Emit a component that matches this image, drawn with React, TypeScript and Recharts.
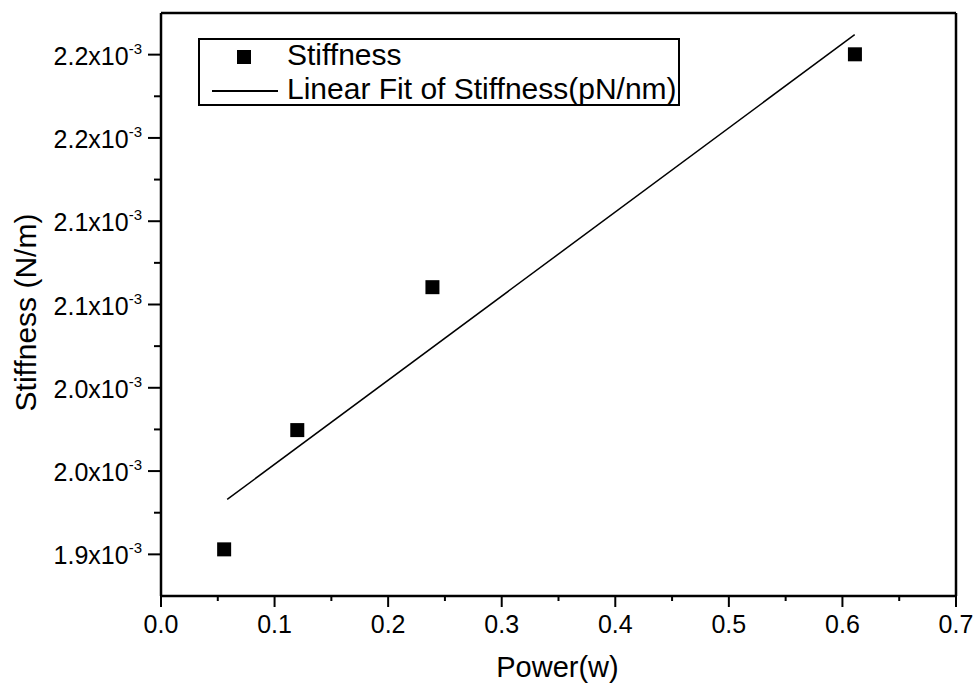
import React from "react";
import { ScatterChart, Scatter, XAxis, YAxis, Legend } from "recharts";

// measured points (power in W, stiffness in N/m)
const power = [0.0556, 0.12, 0.239, 0.611];
const stiffness = [0.001903, 0.0019746, 0.0020604, 0.0022002];

// end points of the linear fit as drawn
const fitPower = [0.0583, 0.6108];
const fitStiffness = [0.001933, 0.002212];

const xMajorTicks = [0, 0.1, 0.2, 0.3, 0.4, 0.5, 0.6, 0.7];
const xTickLabels = ["0.0", "0.1", "0.2", "0.3", "0.4", "0.5", "0.6", "0.7"];
const xMinorTicks = [0.05, 0.15, 0.25, 0.35, 0.45, 0.55, 0.65];

const yMajorTicks = [0.0019, 0.00195, 0.002, 0.00205, 0.0021, 0.00215, 0.0022];
const yTickLabels = ["1.9", "2.0", "2.0", "2.1", "2.1", "2.2", "2.2"];
const yMinorTicks = [0.001925, 0.001975, 0.002025, 0.002075, 0.002125, 0.002175];

// top / right frame axes have their own 10 divisions
const frameTicks = [1, 2, 3, 4, 5, 6, 7, 8, 9];

const points = power.map((p, i) => ({ power: p, stiffness: stiffness[i] }));
const fit = fitPower.map((p, i) => ({ power: p, stiffness: fitStiffness[i] }));

const FONT = "'Liberation Sans', Arial, sans-serif";

const findMajor = (arr: number[], v: number) => arr.findIndex((t) => Math.abs(t - v) < 1e-9);

const BottomTick = (props: any) => {
  const { x, y, payload } = props;
  const i = findMajor(xMajorTicks, payload.value);
  const major = i >= 0;
  return (
    <g>
      <line x1={x} x2={x} y1={y} y2={y + (major ? 11 : 5)} stroke="#000" strokeWidth={2} />
      {major && (
        <text x={x} y={y + 37} textAnchor="middle" fontSize={25} fontFamily={FONT} fill="#000">
          {xTickLabels[i]}
        </text>
      )}
    </g>
  );
};

const LeftTick = (props: any) => {
  const { x, y, payload } = props;
  const i = findMajor(yMajorTicks, payload.value);
  const major = i >= 0;
  return (
    <g>
      <line x1={x - (major ? 13 : 7)} x2={x} y1={y} y2={y} stroke="#000" strokeWidth={2} />
      {major && (
        <text x={x - 19} y={y + 10} textAnchor="end" fontSize={25} fontFamily={FONT} fill="#000">
          {yTickLabels[i]}x10
          <tspan dy={-11} fontSize={15}>-3</tspan>
        </text>
      )}
    </g>
  );
};

const TopTick = (props: any) => {
  const { x, y } = props;
  return <line x1={x} x2={x} y1={y} y2={y + 11} stroke="#000" strokeWidth={2} />;
};

const RightTick = (props: any) => {
  const { x, y } = props;
  return <line x1={x - 13} x2={x} y1={y} y2={y} stroke="#000" strokeWidth={2} />;
};

const LegendBox = () => (
  <div
    style={{
      position: "relative",
      width: 482,
      height: 68,
      border: "2px solid #000",
      boxSizing: "border-box",
      background: "#fff",
      fontFamily: FONT,
      fontSize: 30,
      color: "#000",
    }}
  >
    <div style={{ position: "absolute", left: 37, top: 10, width: 14, height: 14, background: "#000" }} />
    <div style={{ position: "absolute", left: 87, top: 0, lineHeight: "29px", whiteSpace: "nowrap" }}>Stiffness</div>
    <div style={{ position: "absolute", left: 12, top: 50, width: 66, height: 1.5, background: "#000" }} />
    <div style={{ position: "absolute", left: 87, top: 34, lineHeight: "29px", whiteSpace: "nowrap" }}>
      Linear Fit of Stiffness(pN/nm)
    </div>
  </div>
);

const Square = (props: any) => {
  const { cx, cy } = props;
  return <rect x={cx - 7} y={cy - 7} width={14} height={14} fill="#000" />;
};

export default function App() {
  return (
    <div style={{ position: "absolute", left: 0, top: 0, background: "#fff" }}>
      <ScatterChart width={975} height={683} margin={{ top: 12, right: 18, bottom: 0, left: 0 }}>
        <XAxis
          xAxisId="bottom"
          dataKey="power"
          type="number"
          domain={[0, 0.7]}
          ticks={[...xMajorTicks, ...xMinorTicks].sort((a, b) => a - b)}
          interval={0}
          height={87}
          tickSize={0}
          tickMargin={0}
          tickLine={false}
          tick={<BottomTick />}
          axisLine={{ stroke: "#000", strokeWidth: 2.5 }}
          label={{ value: "Power(w)", position: "insideBottom", offset: 6, fontSize: 29, fontFamily: FONT, fill: "#000", dx: -1 }}
        />
        <XAxis
          xAxisId="top"
          orientation="top"
          type="number"
          domain={[0, 10]}
          ticks={frameTicks}
          interval={0}
          height={1}
          tickSize={0}
          tickMargin={0}
          tickLine={false}
          tick={<TopTick />}
          axisLine={{ stroke: "#000", strokeWidth: 2.5 }}
        />
        <YAxis
          yAxisId="left"
          dataKey="stiffness"
          type="number"
          domain={[0.001875, 0.002225]}
          ticks={[...yMajorTicks, ...yMinorTicks].sort((a, b) => a - b)}
          interval={0}
          width={161}
          tickSize={0}
          tickMargin={0}
          tickLine={false}
          tick={<LeftTick />}
          axisLine={{ stroke: "#000", strokeWidth: 2.5 }}
          label={{ value: "Stiffness (N/m)", angle: -90, position: "insideLeft", offset: 25, fontSize: 30, fontFamily: FONT, fill: "#000", dy: 8, style: { textAnchor: "middle" } }}
        />
        <YAxis
          yAxisId="right"
          orientation="right"
          type="number"
          domain={[0, 10]}
          ticks={frameTicks}
          interval={0}
          width={1}
          tickSize={0}
          tickMargin={0}
          tickLine={false}
          tick={<RightTick />}
          axisLine={{ stroke: "#000", strokeWidth: 2.5 }}
        />
        <Legend
          layout="vertical"
          align="center"
          verticalAlign="middle"
          content={<LegendBox />}
          wrapperStyle={{ left: 198, top: 38, width: 482, height: 68 }}
        />
        <Scatter
          name="Linear Fit of Stiffness(pN/nm)"
          data={fit}
          xAxisId="bottom"
          yAxisId="left"
          line={{ stroke: "#000", strokeWidth: 1.5 }}
          shape={() => <g />}
          isAnimationActive={false}
        />
        <Scatter
          name="Stiffness"
          data={points}
          xAxisId="bottom"
          yAxisId="left"
          shape={<Square />}
          isAnimationActive={false}
        />
      </ScatterChart>
    </div>
  );
}
